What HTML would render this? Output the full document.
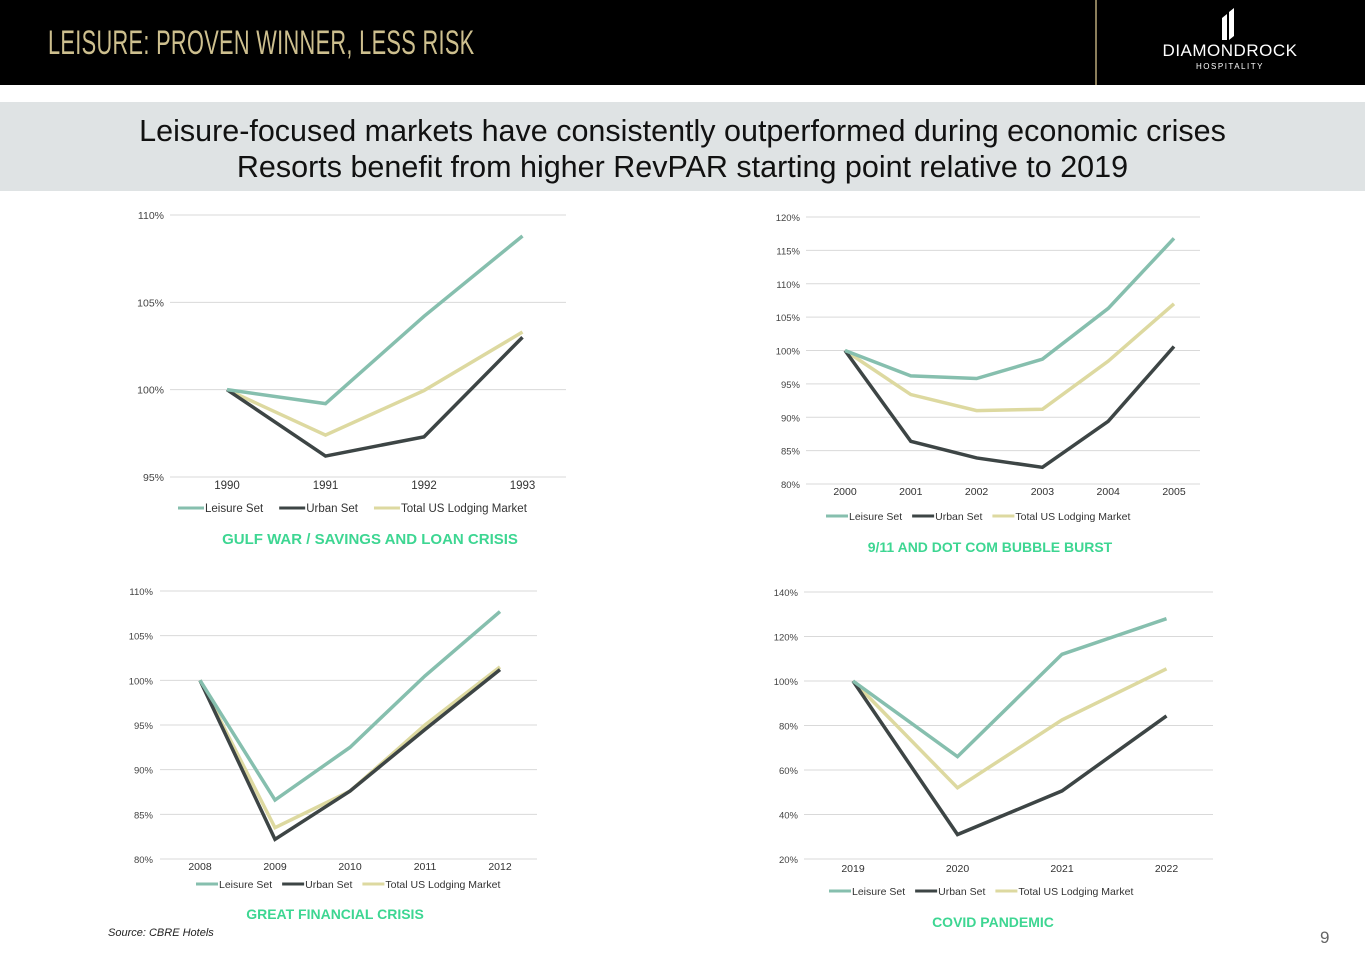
<!DOCTYPE html>
<html><head><meta charset="utf-8"><style>
body{margin:0;width:1365px;height:956px;overflow:hidden;background:#fff;font-family:"Liberation Sans",sans-serif;position:relative}
#hdr{position:absolute;left:0;top:0;width:1365px;height:85px;background:#000}
#ttl{position:absolute;left:48px;top:24px;font-size:34px;color:#cdbf8e;transform:scaleX(0.64);transform-origin:left top;white-space:nowrap;letter-spacing:0.5px}
#vl{position:absolute;left:1095px;top:0;width:2px;height:85px;background:#8a7d5a}
#band{position:absolute;left:0;top:102px;width:1365px;height:89px;background:#dfe3e4;text-align:center;font-size:30.5px;line-height:36px;color:#111;padding-top:11px;box-sizing:border-box;white-space:nowrap}
svg{position:absolute;left:0;top:0}
</style></head><body>
<div id="hdr"></div>
<div id="ttl">LEISURE: PROVEN WINNER, LESS RISK</div>
<div id="vl"></div>
<div style="position:absolute;left:1150px;top:6px;width:160px;height:70px;color:#fff;text-align:center">
 <svg width="160" height="40" style="position:absolute;left:0;top:0"><polygon points="72,12 77,8 77,34 72,34" fill="#fff"/><polygon points="79,6 84,2 84,30 79,34" fill="#fff"/></svg>
 <div style="position:absolute;left:0;top:35px;width:160px;font-size:17px;letter-spacing:0.5px">DIAMONDROCK</div>
 <div style="position:absolute;left:0;top:56px;width:160px;font-size:8px;letter-spacing:1.5px">HOSPITALITY</div>
</div>
<div id="band">Leisure-focused markets have consistently outperformed during economic crises<br>Resorts benefit from higher RevPAR starting point relative to 2019</div>
<div style="position:absolute;left:108px;top:927px;font-size:11px;font-style:italic;color:#222">Source: CBRE Hotels</div>
<div style="position:absolute;left:1320px;top:928px;font-size:17px;color:#666">9</div>
<svg id="s" width="1365" height="956"></svg>
<script>
const c1Cats=["1990","1991","1992","1993"];
const c1Leisure=[100,99.2,104.2,108.8];
const c1Urban=[100,96.2,97.3,103];
const c1Total=[100,97.4,99.95,103.3];
const c1Ticks=[95,100,105,110];
const c2Cats=["2000","2001","2002","2003","2004","2005"];
const c2Leisure=[100,96.2,95.8,98.7,106.3,116.8];
const c2Urban=[100,86.4,83.9,82.5,89.4,100.6];
const c2Total=[100,93.4,91,91.2,98.4,107];
const c2Ticks=[80,85,90,95,100,105,110,115,120];
const c3Cats=["2008","2009","2010","2011","2012"];
const c3Leisure=[100,86.6,92.5,100.5,107.7];
const c3Urban=[100,82.2,87.6,94.5,101.2];
const c3Total=[100,83.5,87.6,95,101.5];
const c3Ticks=[80,85,90,95,100,105,110];
const c4Cats=["2019","2020","2021","2022"];
const c4Leisure=[100,66,112,128];
const c4Urban=[100,31,50.6,84.3];
const c4Total=[100,52,82.5,105.5];
const c4Ticks=[20,40,60,80,100,120,140];

const NS="http://www.w3.org/2000/svg",S=document.getElementById('s');
function el(t,a,txt){const e=document.createElementNS(NS,t);for(const k in a)e.setAttribute(k,a[k]);if(txt!==undefined)e.textContent=txt;S.appendChild(e);return e;}
const COL={l:"#86bfae",u:"#3d4545",t:"#ddd9a0"};
function chart(id,cfg,cats,L,U,T,ticks,title){
 const y=v=>cfg.yb-(v-ticks[0])/(ticks[ticks.length-1]-ticks[0])*(cfg.yb-cfg.yt);
 const x=i=>cfg.x0+i*cfg.dx;
 ticks.forEach(t=>{
  const g=el('line',{x1:cfg.gl,x2:cfg.gr,y1:y(t),y2:y(t),stroke:"#d9d9d9","stroke-width":1});
  
  const lb=el('text',{x:cfg.lx,y:y(t)+4,"text-anchor":"end","font-size":cfg.fs-1,fill:"#444"},t+"%");
  
 });
 cats.forEach((c,i)=>{const t=el('text',{x:x(i),y:cfg.cy,"text-anchor":"middle","font-size":cfg.fs,fill:"#333"},c);
  });
 [[T,'t','total-line'],[U,'u','urban-line'],[L,'l','leisure-line']].forEach(([d,k,n])=>{
  const p=el('polyline',{points:d.map((v,i)=>x(i)+","+y(v)).join(" "),fill:"none",stroke:COL[k],"stroke-width":3.5,"stroke-linejoin":"miter"});
  
 });
 let lx=cfg.legX;const names=[["l","Leisure Set"],["u","Urban Set"],["t","Total US Lodging Market"]];
 names.forEach(([k,n])=>{
  const ln=el('line',{x1:lx,x2:lx+cfg.legW,y1:cfg.legY-4,y2:cfg.legY-4,stroke:COL[k],"stroke-width":3});
  
  const t=el('text',{x:lx+cfg.legW+1,y:cfg.legY,"font-size":cfg.fs,fill:"#333"},n);
  
  lx+=cfg.legW+1+t.getComputedTextLength()+cfg.gap;
 });
 const tt=el('text',{x:cfg.tx,y:cfg.ty,"text-anchor":"middle","font-size":cfg.tfs,"font-weight":"bold",fill:"#3dd692"},title);
 
}
chart('gulf-war',{yt:215,yb:477,gl:170,gr:566,lx:164,x0:227,dx:98.5,cy:489,fs:11.5,legX:178,legY:512,legW:26,gap:16,tx:370,ty:544,tfs:15},c1Cats,c1Leisure,c1Urban,c1Total,c1Ticks,"GULF WAR / SAVINGS AND LOAN CRISIS");
chart('dotcom',{yt:217,yb:484,gl:806,gr:1200,lx:800,x0:845,dx:65.8,cy:495,fs:10.5,legX:826,legY:520,legW:22,gap:10,tx:990,ty:552,tfs:14},c2Cats,c2Leisure,c2Urban,c2Total,c2Ticks,"9/11 AND DOT COM BUBBLE BURST");
chart('financial',{yt:591,yb:859,gl:160,gr:537,lx:153,x0:200,dx:75,cy:870,fs:10.5,legX:196,legY:888,legW:22,gap:10,tx:335,ty:919,tfs:14},c3Cats,c3Leisure,c3Urban,c3Total,c3Ticks,"GREAT FINANCIAL CRISIS");
chart('covid',{yt:592,yb:859,gl:804,gr:1213,lx:798,x0:853,dx:104.5,cy:872,fs:10.5,legX:829,legY:895,legW:22,gap:10,tx:993,ty:927,tfs:14},c4Cats,c4Leisure,c4Urban,c4Total,c4Ticks,"COVID PANDEMIC");
</script>
</body></html>
